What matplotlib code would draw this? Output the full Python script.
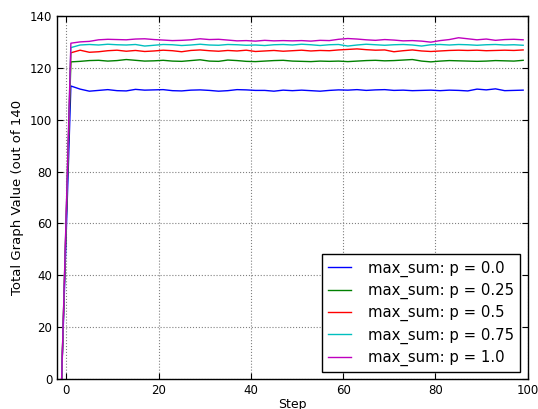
import matplotlib
matplotlib.use('Agg')
import matplotlib.pyplot as plt
import numpy as np

# steps (every second step, plus the start at -1)
steps = [-1] + list(range(1, 100, 2))

labels = ['max_sum: p = 0.0', 'max_sum: p = 0.25', 'max_sum: p = 0.5',
          'max_sum: p = 0.75', 'max_sum: p = 1.0']
colors = ['b', 'g', 'r', 'c', 'm']

p00 = [0,
       113.0, 111.8, 111.0, 111.3, 111.6, 111.2, 111.1, 111.7, 111.4, 111.5,
       111.6, 111.2, 111.1, 111.4, 111.5, 111.3, 111.0, 111.2, 111.6, 111.5,
       111.3, 111.3, 111.0, 111.4, 111.2, 111.4, 111.2, 111.0, 111.3, 111.5,
       111.4, 111.6, 111.3, 111.5, 111.6, 111.3, 111.4, 111.2, 111.3, 111.4,
       111.2, 111.4, 111.3, 111.1, 111.8, 111.5, 111.9, 111.2, 111.3, 111.4]
p025 = [0,
        122.3, 122.5, 122.8, 122.9, 122.6, 122.8, 123.2, 122.9, 122.6, 122.7,
        122.9, 122.6, 122.5, 122.8, 123.1, 122.6, 122.5, 123.0, 122.8, 122.5,
        122.4, 122.6, 122.8, 122.9, 122.6, 122.5, 122.4, 122.6, 122.5, 122.6,
        122.4, 122.6, 122.8, 122.9, 122.7, 122.8, 123.0, 123.2, 122.6, 122.3,
        122.6, 122.8, 122.7, 122.6, 122.5, 122.6, 122.8, 122.7, 122.6, 122.9]
p05 = [0,
       125.8, 126.8, 126.0, 126.2, 126.6, 126.8, 126.4, 126.7, 126.3, 126.5,
       126.8, 126.6, 126.2, 126.7, 126.9, 126.6, 126.4, 126.7, 126.5, 126.8,
       126.3, 126.5, 126.7, 126.4, 126.6, 126.8, 126.5, 126.7, 126.6, 126.9,
       127.1, 127.3, 127.0, 126.8, 126.9, 126.2, 126.6, 126.9, 126.5, 126.3,
       126.5, 126.7, 126.8, 126.7, 126.8, 126.6, 126.7, 126.8, 126.7, 126.9]
p075 = [0,
        127.8, 128.8, 129.0, 128.8, 129.1, 128.9, 128.8, 129.0, 128.4, 128.7,
        129.0, 128.9, 128.6, 128.8, 129.1, 128.8, 128.7, 129.0, 128.9, 128.7,
        128.8, 128.6, 128.9, 129.0, 128.8, 129.1, 128.9, 128.6, 128.9, 129.0,
        128.4, 128.8, 129.1, 128.9, 128.7, 128.9, 129.0, 128.8, 128.4, 128.9,
        129.0, 128.8, 129.0, 128.9, 128.7, 128.9, 129.0, 128.8, 128.9, 128.7]
p10 = [0,
       129.5, 130.0, 130.2, 130.8, 131.0, 130.9, 130.8, 131.1, 131.2, 130.9,
       130.7, 130.5, 130.6, 130.8, 131.2, 130.9, 131.0, 130.7, 130.4, 130.5,
       130.3, 130.6, 130.4, 130.5, 130.4, 130.5, 130.3, 130.6, 130.5, 131.0,
       131.3, 131.1, 130.8, 130.6, 130.9, 130.7, 130.4, 130.5, 130.3, 129.9,
       130.5, 130.9, 131.6, 131.2, 130.8, 131.1, 130.6, 130.9, 131.0, 130.8]

series = [p00, p025, p05, p075, p10]

fig = plt.figure(figsize=(5.38, 4.09), dpi=100)
ax = fig.add_axes([0.106, 0.073, 0.875, 0.888])

for vals, lab, col in zip(series, labels, colors):
    ax.plot(steps, vals, color=col, linewidth=1, label=lab)

ax.set_xlim(-2, 100)
ax.set_ylim(0, 140)
ax.set_xticks(np.arange(0, 101, 20))
ax.set_yticks(np.arange(0, 141, 20))
ax.tick_params(direction='in', length=4, top=True, right=True, labelsize=8.5)
ax.grid(color='gray', linestyle=':', linewidth=0.8)
for s in ax.spines.values():
    s.set_linewidth(1)

ax.set_xlabel('Step', fontsize=9, labelpad=1)
ax.set_ylabel('Total Graph Value (out of 140', fontsize=9.5)
ax.yaxis.set_label_coords(-0.07, 0.5)

ax.legend(loc='lower right', bbox_to_anchor=(0.983, 0.019), borderaxespad=0,
          fontsize=10.7, fancybox=False, edgecolor='black', framealpha=1,
          labelspacing=0.42, handlelength=1.5, handletextpad=1.15)

fig.savefig('out.png', dpi=100)
